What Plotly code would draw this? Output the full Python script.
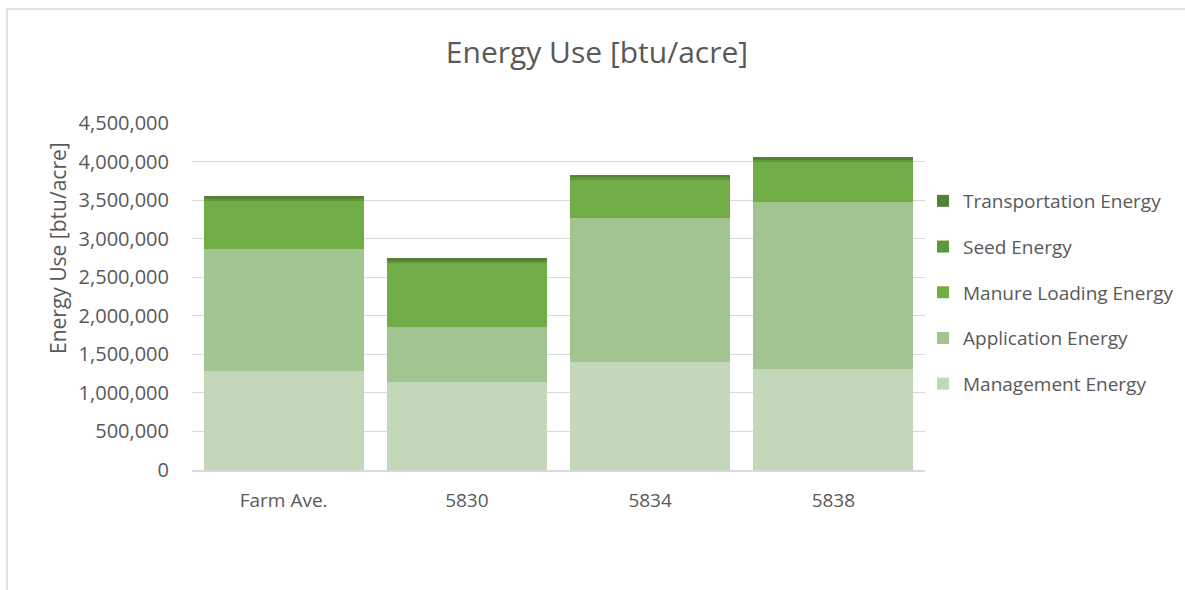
import plotly.graph_objects as go

# Energy use per acre, stacked by component
categories = ["Farm Ave.", "5830", "5834", "5838"]
management_energy = [1285000, 1139000, 1405000, 1311000]
application_energy = [1578000, 712000, 1866000, 2167000]
manure_loading_energy = [628000, 837000, 501000, 523000]
seed_energy = [25000, 24000, 22000, 25000]
transportation_energy = [40000, 37000, 30000, 35000]

y_ticks = [0, 500000, 1000000, 1500000, 2000000, 2500000, 3000000, 3500000, 4000000, 4500000]

# stacked bottom to top; legend lists them top to bottom
series = [
    ("Management Energy", management_energy, "#C3D7BB"),
    ("Application Energy", application_energy, "#A2C491"),
    ("Manure Loading Energy", manure_loading_energy, "#70AD47"),
    ("Seed Energy", seed_energy, "#5F963C"),
    ("Transportation Energy", transportation_energy, "#548235"),
]

FONT = "Open Sans, Liberation Sans, sans-serif"
TEXT = "#595959"

fig = go.Figure()
for i, (name, vals, color) in enumerate(series):
    fig.add_trace(go.Bar(
        x=categories, y=vals, name=name, legendgroup=name,
        legendrank=len(series) - i,
        marker=dict(color=color, line=dict(width=0)),
    ))

W, H = 1185, 590
L, R, T, B = 192, 260, 123, 120
pw = W - L - R
ph = H - T - B

def px_x(x):
    return (x - L) / pw

def px_y(y):
    return (H - B - y) / ph

fig.update_layout(
    width=W, height=H,
    margin=dict(l=L, r=R, t=T, b=B, autoexpand=False),
    paper_bgcolor="white", plot_bgcolor="white",
    barmode="stack", bargap=0.127,
    font=dict(family=FONT, color=TEXT, size=19),
    title=dict(text="Energy Use [btu/acre]", x=597 / W, xanchor="center",
               y=1 - 52 / H, yanchor="middle",
               font=dict(family=FONT, size=30, color=TEXT)),
    xaxis=dict(showgrid=False, showline=True, linecolor="#D9D9D9", linewidth=1.5,
               ticks="", ticklabelstandoff=12, tickfont=dict(size=19, color=TEXT)),
    yaxis=dict(range=[0, 4500000], tickvals=y_ticks, tickformat=",d",
               showgrid=True, gridcolor="#D9D9D9", gridwidth=1.3,
               zeroline=False, showline=False, ticks="",
               ticklabelstandoff=22, tickfont=dict(size=20, color=TEXT)),
    legend=dict(x=px_x(923), xanchor="left", y=px_y(182), yanchor="top",
                traceorder="grouped", tracegroupgap=18,
                font=dict(size=19, color=TEXT), bgcolor="rgba(0,0,0,0)"),
    showlegend=True,
)

# y-axis title
fig.add_annotation(text="Energy Use [btu/acre]", textangle=-90,
                   xref="paper", yref="paper", x=px_x(58), y=px_y(248),
                   xanchor="center", yanchor="middle", showarrow=False,
                   font=dict(family=FONT, size=21, color=TEXT))

# chart frame
fig.add_shape(type="rect", xref="paper", yref="paper",
              x0=px_x(7), x1=px_x(W + 10), y0=px_y(H + 10), y1=px_y(9),
              line=dict(color="#D9D9D9", width=1.5), fillcolor="rgba(0,0,0,0)",
              layer="below")

fig.write_html("out.html")
